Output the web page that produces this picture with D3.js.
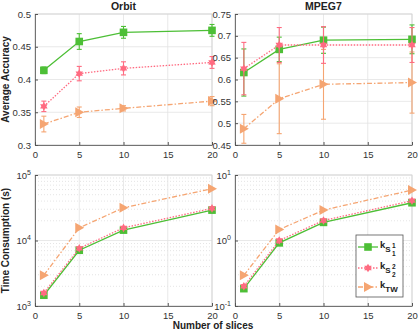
<!DOCTYPE html>
<html>
<head>
<meta charset="utf-8">
<script src="https://cdn.jsdelivr.net/npm/d3@7"></script>
<style>
body { margin: 0; background: #fff; }
text { font-family: "Liberation Sans", Arial, sans-serif; }
</style>
</head>
<body>
<svg id="chart" width="420" height="334"></svg>
<script>
// slices on the x axis
var slices = [1, 5, 10, 20];
var xTicks = [0, 5, 10, 15, 20];

// accuracy, Orbit
var orbitS1 = [0.414, 0.458, 0.472, 0.475];
var orbitS1Err = [0.005, 0.012, 0.009, 0.009];
var orbitS2 = [0.359, 0.409, 0.417, 0.426];
var orbitS2Err = [0.008, 0.011, 0.010, 0.009];
var orbitTW = [0.332, 0.350, 0.356, 0.367];
var orbitTWErr = [0.012, 0.008, 0.004, 0.007];

// accuracy, MPEG7
var mpegS1 = [0.616, 0.669, 0.690, 0.692];
var mpegS1Err = [0.054, 0.028, 0.030, 0.033];
var mpegS2 = [0.625, 0.679, 0.679, 0.679];
var mpegS2Err = [0.060, 0.040, 0.042, 0.040];
var mpegTW = [0.487, 0.556, 0.589, 0.593];
var mpegTWErr = [0.033, 0.080, 0.080, 0.070];

// time consumption (s)
var orbitTimeS1 = [1460, 7100, 14400, 29100];
var orbitTimeS2 = [1580, 7600, 15600, 30900];
var orbitTimeTW = [2950, 15600, 31600, 61900];
var mpegTimeS1 = [0.184, 0.92, 1.89, 3.77];
var mpegTimeS2 = [0.20, 1.00, 2.02, 4.05];
var mpegTimeTW = [0.294, 1.47, 2.91, 5.89];

var orbitAccTicks = [0.3, 0.35, 0.4, 0.45, 0.5];
var mpegAccTicks = [0.45, 0.5, 0.55, 0.6, 0.65, 0.7, 0.75];

var GREEN = "#4dbf36", PINK = "#ff6b81", ORANGE = "#f5a572";
var styles = {
	s1: { color: GREEN, dash: null, marker: "square" },
	s2: { color: PINK, dash: "1.5,1.5", marker: "star" },
	tw: { color: ORANGE, dash: "5,2,1.5,2", marker: "tri" }
};

var svg = d3.select("#chart");

// six pointed star path
function hexagram(r)
{
	var p = [];
	for( var i = 0; i < 12; i++ )
	{
		var a = Math.PI / 6 * i - Math.PI / 2;
		var rr = i % 2 ? r * 0.58 : r;
		p.push([rr * Math.cos(a), rr * Math.sin(a)]);
	}
	return "M" + p.join("L") + "Z";
}

// draw a marker shape centred at 0,0
function marker(g, kind, color)
{
	if( kind == "square" )
		g.append("rect").attr("x", -3.8).attr("y", -3.8).attr("width", 7.6).attr("height", 7.6).attr("fill", color);
	else if( kind == "star" )
		g.append("path").attr("d", hexagram(4.3)).attr("fill", color);
	else
		g.append("path").attr("d", "M -4 -5 L 5 0 L -4 5 Z").attr("fill", color);
}

function panel(opt)
{
	var x = d3.scaleLinear().domain([0, 20]).range([opt.x0, opt.x1]);
	var y = opt.log
		? d3.scaleLog().domain(opt.domain).range([opt.y1, opt.y0])
		: d3.scaleLinear().domain(opt.domain).range([opt.y1, opt.y0]);
	var g = svg.append("g");

	// minor log grid
	if( opt.log )
	{
		var d0 = Math.log10(opt.domain[0]), d1 = Math.log10(opt.domain[1]);
		for( var e = d0; e < d1; e++ )
			for( var m = 2; m < 10; m++ )
			{
				var v = m * Math.pow(10, e);
				g.append("line").attr("x1", opt.x0).attr("x2", opt.x1)
					.attr("y1", y(v)).attr("y2", y(v))
					.attr("stroke", "#d8d8d8").attr("stroke-width", 0.7).attr("stroke-dasharray", "1,2");
			}
	}
	// major grid
	g.selectAll(".gx").data(xTicks).enter().append("line")
		.attr("x1", function(d) { return x(d); }).attr("x2", function(d) { return x(d); })
		.attr("y1", opt.y0).attr("y2", opt.y1)
		.attr("stroke", "#e3e3e3").attr("stroke-width", 0.8);
	g.selectAll(".gy").data(opt.ticks).enter().append("line")
		.attr("x1", opt.x0).attr("x2", opt.x1)
		.attr("y1", function(d) { return y(d); }).attr("y2", function(d) { return y(d); })
		.attr("stroke", "#e3e3e3").attr("stroke-width", 0.8);

	// box
	g.append("rect").attr("x", opt.x0).attr("y", opt.y0)
		.attr("width", opt.x1 - opt.x0).attr("height", opt.y1 - opt.y0)
		.attr("fill", "none").attr("stroke", "#d0d0d0").attr("stroke-width", 0.8);

	// axes
	var xa = g.append("g").attr("transform", "translate(0," + opt.y1 + ")")
		.call(d3.axisBottom(x).tickValues(xTicks).tickSizeInner(-3).tickSizeOuter(0).tickPadding(6));
	var ya = g.append("g").attr("transform", "translate(" + opt.x0 + ",0)")
		.call(d3.axisLeft(y).tickValues(opt.ticks).tickSizeInner(-3).tickSizeOuter(0).tickPadding(4)
			.tickFormat(opt.log ? function() { return ""; } : d3.format("")));
	[xa, ya].forEach(function(a) {
		a.select(".domain").attr("stroke", "#555").attr("stroke-width", 0.8);
		a.selectAll(".tick line").attr("stroke", "#555");
		a.selectAll("text").attr("fill", "#333").attr("font-size", "9.5px");
	});
	if( opt.log )
	{
		ya.selectAll(".tick").each(function(d) {
			var t = d3.select(this).select("text").attr("x", -4);
			t.append("tspan").text("10");
			t.append("tspan").attr("dy", "-4").attr("font-size", "7px").text(Math.round(Math.log10(d)));
		});
	}

	// series
	opt.series.forEach(function(s) {
		var st = styles[s.key];
		var pts = slices.map(function(d, i) { return [x(d), y(s.vals[i])]; });
		if( s.err )
		{
			slices.forEach(function(d, i) {
				var lo = y(s.vals[i] - s.err[i]), hi = y(s.vals[i] + s.err[i]), cx = x(d);
				g.append("line").attr("x1", cx).attr("x2", cx).attr("y1", lo).attr("y2", hi)
					.attr("stroke", st.color).attr("stroke-width", 1.1);
				[lo, hi].forEach(function(yy) {
					g.append("line").attr("x1", cx - 2.5).attr("x2", cx + 2.5).attr("y1", yy).attr("y2", yy)
						.attr("stroke", st.color).attr("stroke-width", 1.1);
				});
			});
		}
		g.append("path").attr("d", d3.line()(pts))
			.attr("fill", "none").attr("stroke", st.color).attr("stroke-width", 1.3)
			.attr("stroke-dasharray", st.dash);
		pts.forEach(function(p) {
			marker(g.append("g").attr("transform", "translate(" + p[0] + "," + p[1] + ")"), st.marker, st.color);
		});
	});

	if( opt.title )
		svg.append("text").attr("x", (opt.x0 + opt.x1) / 2).attr("y", opt.y0 - 4)
			.attr("text-anchor", "middle").attr("font-size", "10.5px").attr("font-weight", "bold")
			.attr("fill", "#222").text(opt.title);
	if( opt.ylabel )
		svg.append("text").attr("transform", "translate(9," + ((opt.y0 + opt.y1) / 2) + ") rotate(-90)")
			.attr("text-anchor", "middle").attr("font-size", "10px").attr("font-weight", "bold")
			.attr("fill", "#222").text(opt.ylabel);
}

panel({ x0: 35, x1: 212, y0: 14, y1: 145, domain: [0.3, 0.5], ticks: orbitAccTicks,
	title: "Orbit", ylabel: "Average Accuracy",
	series: [ { key: "s1", vals: orbitS1, err: orbitS1Err },
		{ key: "s2", vals: orbitS2, err: orbitS2Err },
		{ key: "tw", vals: orbitTW, err: orbitTWErr } ] });
panel({ x0: 235, x1: 412, y0: 14, y1: 145, domain: [0.45, 0.75], ticks: mpegAccTicks,
	title: "MPEG7",
	series: [ { key: "tw", vals: mpegTW, err: mpegTWErr },
		{ key: "s1", vals: mpegS1, err: mpegS1Err },
		{ key: "s2", vals: mpegS2, err: mpegS2Err } ] });
panel({ x0: 35, x1: 212, y0: 175, y1: 306, log: true, domain: [1e3, 1e5], ticks: [1e3, 1e4, 1e5],
	ylabel: "Time Consumption (s)",
	series: [ { key: "tw", vals: orbitTimeTW },
		{ key: "s1", vals: orbitTimeS1 },
		{ key: "s2", vals: orbitTimeS2 } ] });
panel({ x0: 235, x1: 412, y0: 175, y1: 306, log: true, domain: [0.1, 10], ticks: [0.1, 1, 10],
	series: [ { key: "tw", vals: mpegTimeTW },
		{ key: "s1", vals: mpegTimeS1 },
		{ key: "s2", vals: mpegTimeS2 } ] });

svg.append("text").attr("x", 213).attr("y", 329).attr("text-anchor", "middle")
	.attr("font-size", "10px").attr("font-weight", "bold").attr("fill", "#222").text("Number of slices");

// legend
var leg = svg.append("g");
leg.append("rect").attr("x", 356).attr("y", 235).attr("width", 47).attr("height", 62)
	.attr("fill", "#fff").attr("stroke", "#555").attr("stroke-width", 0.8);
var legItems = [
	{ key: "s1", y: 247, sub: "S", sup: "1", sub2: "1" },
	{ key: "s2", y: 268, sub: "S", sup: "2", sub2: "2" },
	{ key: "tw", y: 287, sub: "TW" }
];
legItems.forEach(function(it) {
	var st = styles[it.key];
	leg.append("line").attr("x1", 358).attr("x2", 378).attr("y1", it.y).attr("y2", it.y)
		.attr("stroke", st.color).attr("stroke-width", 1.3).attr("stroke-dasharray", st.dash);
	marker(leg.append("g").attr("transform", "translate(368," + it.y + ")"), st.marker, st.color);
	var t = leg.append("text").attr("x", 380).attr("y", it.y + 1).attr("font-size", "9.5px")
		.attr("font-weight", "bold").attr("fill", "#222");
	t.append("tspan").text("k");
	t.append("tspan").attr("dy", 4).attr("font-size", "8px").text(it.sub);
	if( it.sup )
	{
		leg.append("text").attr("x", 392).attr("y", it.y + 1).attr("font-size", "6.5px")
			.attr("font-weight", "bold").attr("fill", "#222").text(it.sup);
		leg.append("text").attr("x", 392).attr("y", it.y + 9).attr("font-size", "6.5px")
			.attr("font-weight", "bold").attr("fill", "#222").text(it.sub2);
	}
});
</script>
</body>
</html>
